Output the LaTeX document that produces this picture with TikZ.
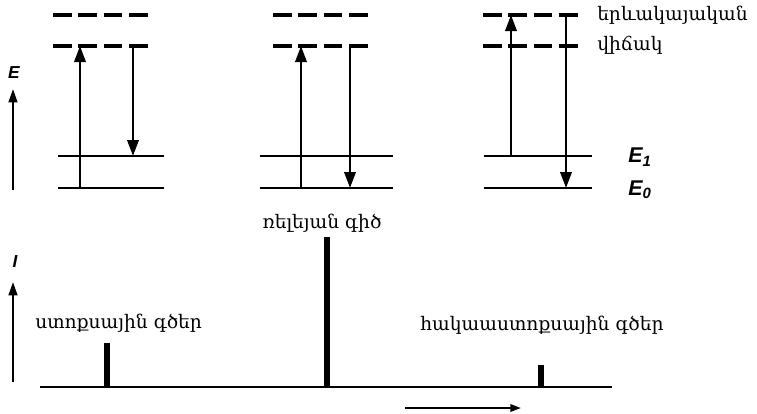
\documentclass[tikz,border=0pt]{standalone}
\usepackage{fontspec}
\setmainfont{Liberation Sans}
\newfontfamily\armfont{DejaVu Serif}
\usepackage{tikz}
\usetikzlibrary{arrows.meta}

\tikzset{
  level/.style={line width=1.6pt},
  virtual/.style={line width=2.6pt, dash pattern=on 14pt off 5pt},
  trans/.style={line width=1.9pt, -{Triangle[length=12pt, width=8.5pt]}},
  axisarrow/.style={line width=1.8pt, -{Triangle[length=10pt, width=6.5pt]}},
  armlabel/.style={font=\armfont\fontsize{14}{16}\selectfont, inner sep=0pt},
  elabel/.style={font=\fontsize{16}{17}\selectfont\bfseries\itshape, inner sep=0pt},
}

\begin{document}
\begin{tikzpicture}[x=0.75pt, y=-0.75pt]
  \useasboundingbox (0,0) rectangle (757,414);

  % ── energy axis ──
  \node[elabel, font=\fontsize{13}{14}\selectfont\bfseries\itshape] (Elab) at (14,73) {E};
  \coordinate (Ebot) at (13,190);
  \coordinate (Etop) at (13,89);
  \draw[axisarrow] (Ebot) -- (Etop);

  % ── three level schemes ──
  \foreach \p/\xd/\xs/\xup/\yup/\ylo/\xdn/\ydn/\ydt in {
    1/53/58/80/188/46/133/46/156,
    2/273/260/301/188/46/350/46/188,
    3/483/484/511/156/15/566/15/188} {
    \pgfmathsetmacro{\xde}{\xd+95}
    \pgfmathsetmacro{\xse}{\xs+(\p==1 ? 106 : (\p==2 ? 133 : 108))}
    % virtual levels
    \draw[virtual] (\xd,15) -- (\xde,15);
    \draw[virtual] (\xd,46) -- (\xde,46);
    % real levels
    \draw[level] (\xs,156) -- (\xse,156);
    \draw[level] (\xs,188) -- (\xse,188);
    % transitions
    \coordinate (up\p a) at (\xup,\yup);
    \coordinate (up\p b) at (\xup,\ylo);
    \coordinate (dn\p a) at (\xdn,\ydn);
    \coordinate (dn\p b) at (\xdn,\ydt);
    \draw[trans] (up\p a) -- (up\p b);
    \draw[trans] (dn\p a) -- (dn\p b);
  }

  % ── level names ──
  \node[armlabel, anchor=west] (virt1) at (597,15) {երևակայական};
  \node[armlabel, anchor=west] (virt2) at (597,45) {վիճակ};
  \node[elabel, anchor=west] (E1) at (628,157) {E\textsubscript{1}};
  \node[elabel, anchor=west] (E0) at (628,190) {E\textsubscript{0}};

  % ── intensity axis ──
  \node[elabel, font=\fontsize{13}{14}\selectfont\bfseries\itshape] (Ilab) at (15,262) {I};
  \coordinate (Ibot) at (13,382);
  \coordinate (Itop) at (13,282);
  \draw[axisarrow] (Ibot) -- (Itop);

  % ── spectrum ──
  \coordinate (base0) at (40,387);
  \coordinate (base1) at (612,387);
  \draw[line width=1.8pt] (base0) -- (base1);
  \coordinate (stk0) at (107,387);   \coordinate (stk1) at (107,343);
  \coordinate (ray0) at (327,387);   \coordinate (ray1) at (327,237);
  \coordinate (ast0) at (541,387);   \coordinate (ast1) at (541,365);
  \draw[line width=3.8pt] (stk0) -- (stk1);
  \draw[line width=4.6pt] (ray0) -- (ray1);
  \draw[line width=3.8pt] (ast0) -- (ast1);

  \node[armlabel] (raylab) at (322,223) {ռելեյան գիծ};
  \node[armlabel, anchor=west] (stklab) at (35,323) {ստոքսային գծեր};
  \node[armlabel, anchor=west] (astlab) at (420,325) {հակաաստոքսային գծեր};

  % ── frequency arrow ──
  \coordinate (nu0) at (405,408);
  \coordinate (nu1) at (521,408);
  \draw[line width=1.6pt, -{Triangle[length=8pt, width=5.5pt]}] (nu0) -- (nu1);
\end{tikzpicture}
\end{document}
